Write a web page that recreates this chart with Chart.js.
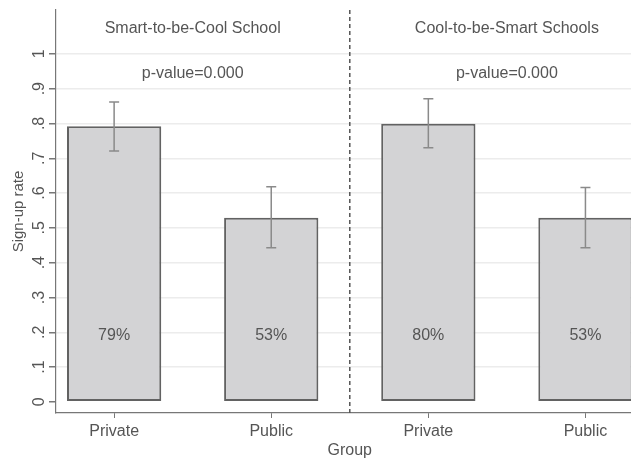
<!DOCTYPE html>
<html>
<head>
<meta charset="utf-8">
<script src="https://cdn.jsdelivr.net/npm/chart.js@4"></script>
<style>
  html, body { margin: 0; padding: 0; background: #fff; }
  #wrap { width: 631px; height: 459px; }
</style>
</head>
<body>
<div id="wrap"><canvas id="signupChart" width="631" height="459"></canvas></div>
<script>
// Data
const groups = ['Private', 'Public', 'Private', 'Public'];
const positions = [1, 2, 3, 4];
const rates = [0.792, 0.529, 0.799, 0.529];
const ciLow = [0.721, 0.443, 0.730, 0.443];
const ciHigh = [0.862, 0.618, 0.871, 0.616];
const barLabels = ['79%', '53%', '80%', '53%'];
const panelTitles = ['Smart-to-be-Cool School', 'Cool-to-be-Smart Schools'];
const panelCenters = [1.5, 3.5];
const pValues = ['p-value=0.000', 'p-value=0.000'];
const yTicks = [0, 0.1, 0.2, 0.3, 0.4, 0.5, 0.6, 0.7, 0.8, 0.9, 1];
const yTickLabels = ['0', '.1', '.2', '.3', '.4', '.5', '.6', '.7', '.8', '.9', '1'];

const FONT = '"Liberation Sans", Arial, Helvetica, sans-serif';
const TEXT = '#555';
const AXIS = '#777';

// extra drawing: error bars, text, dashed divider, axis labels
const overlay = {
    id: 'overlay',
    afterDatasetsDraw(chart) {
        const ctx = chart.ctx;
        const xs = chart.scales.x, ys = chart.scales.y;
        const area = chart.chartArea;
        ctx.save();

        // error bars
        ctx.strokeStyle = '#8a8a8a';
        ctx.lineWidth = 1.5;
        positions.forEach((p, i) => {
            const x = xs.getPixelForValue(p);
            const y1 = ys.getPixelForValue(ciLow[i]);
            const y2 = ys.getPixelForValue(ciHigh[i]);
            ctx.beginPath();
            ctx.moveTo(x, y1); ctx.lineTo(x, y2);
            ctx.moveTo(x - 5, y1); ctx.lineTo(x + 5, y1);
            ctx.moveTo(x - 5, y2); ctx.lineTo(x + 5, y2);
            ctx.stroke();
        });

        // dashed divider
        ctx.strokeStyle = '#555';
        ctx.lineWidth = 1.5;
        ctx.setLineDash([4, 3]);
        const xd = xs.getPixelForValue(2.5);
        ctx.beginPath();
        ctx.moveTo(xd, area.top); ctx.lineTo(xd, area.bottom);
        ctx.stroke();
        ctx.setLineDash([]);

        ctx.fillStyle = TEXT;
        ctx.font = '16px ' + FONT;
        ctx.textAlign = 'center';
        ctx.textBaseline = 'middle';

        // values inside bars
        positions.forEach((p, i) => {
            ctx.fillText(barLabels[i], xs.getPixelForValue(p), ys.getPixelForValue(0.19));
        });

        // panel titles and p-values
        panelCenters.forEach((c, i) => {
            const x = xs.getPixelForValue(c);
            ctx.fillText(panelTitles[i], x, ys.getPixelForValue(1.072));
            ctx.fillText(pValues[i], x, ys.getPixelForValue(0.943));
        });

        // x tick labels + axis title
        positions.forEach((p, i) => {
            ctx.fillText(groups[i], xs.getPixelForValue(p), area.bottom + 19);
        });
        ctx.fillText('Group', xs.getPixelForValue(2.5), area.bottom + 38);

        // y tick labels, rotated
        yTicks.forEach((v, i) => {
            ctx.save();
            ctx.translate(40, ys.getPixelForValue(v));
            ctx.rotate(-Math.PI / 2);
            ctx.fillText(yTickLabels[i], 0, 0);
            ctx.restore();
        });

        // y axis title
        ctx.save();
        ctx.translate(19, (area.top + area.bottom) / 2);
        ctx.rotate(-Math.PI / 2);
        ctx.font = '15px ' + FONT;
        ctx.fillText('Sign-up rate', 0, 0);
        ctx.restore();

        ctx.restore();
    }
};

new Chart(document.getElementById('signupChart').getContext('2d'), {
    type: 'bar',
    data: {
        datasets: [{
            data: positions.map((p, i) => ({ x: p, y: rates[i] })),
            backgroundColor: '#d3d3d5',
            borderColor: '#626262',
            borderWidth: 2,
            borderSkipped: false,
            categoryPercentage: 1,
            barPercentage: 0.6
        }]
    },
    options: {
        responsive: false,
        animation: false,
        events: [],
        layout: { padding: { top: 10, right: 0, left: 0, bottom: 0 } },
        plugins: {
            legend: { display: false },
            tooltip: { enabled: false }
        },
        scales: {
            x: {
                type: 'linear',
                min: 0.63,
                max: 4.29,
                offset: false,
                afterBuildTicks: s => { s.ticks = positions.map(v => ({ value: v })); },
                afterFit: s => { s.height = 46; },
                ticks: { display: false },
                grid: { display: true, offset: false, drawOnChartArea: false, drawTicks: true, tickLength: 5, tickColor: AXIS, lineWidth: 1 },
                border: { display: true, color: AXIS, width: 1.2 }
            },
            y: {
                min: -0.032,
                max: 1.126,
                afterBuildTicks: s => { s.ticks = yTicks.map(v => ({ value: v })); },
                afterFit: s => { s.width = 56; },
                ticks: { display: false },
                grid: {
                    display: true,
                    drawTicks: true,
                    tickLength: 7,
                    tickColor: AXIS,
                    color: c => (c.tick && c.tick.value > 0.05) ? '#ececec' : 'rgba(0,0,0,0)',
                    lineWidth: 1.5
                },
                border: { display: true, color: AXIS, width: 1.2 }
            }
        }
    },
    plugins: [overlay]
});
</script>
</body>
</html>
